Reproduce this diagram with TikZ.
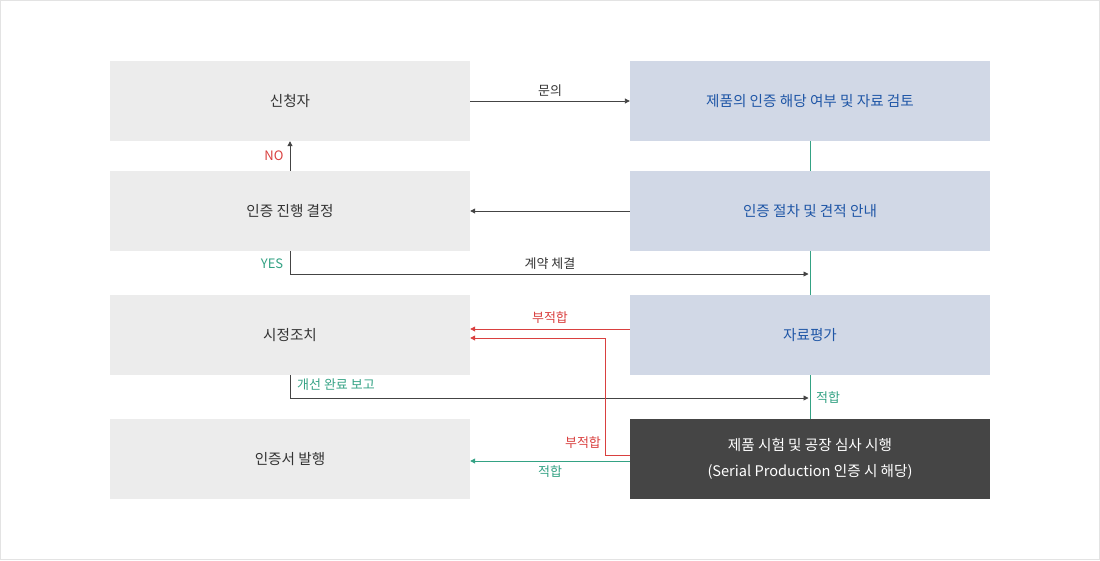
\documentclass[tikz,border=0pt]{standalone}
\usepackage{fontspec}
\setmainfont{Noto Sans CJK KR}
\usetikzlibrary{arrows.meta}
\definecolor{lbox}{HTML}{ECECEC}
\definecolor{rbox}{HTML}{D1D8E6}
\definecolor{dbox}{HTML}{454545}
\definecolor{txt}{HTML}{333333}
\definecolor{bluetxt}{HTML}{1F56A6}
\definecolor{redc}{HTML}{D9403F}
\definecolor{tealc}{HTML}{34A284}
\definecolor{linec}{HTML}{444444}
\definecolor{frame}{HTML}{E3E3E3}
\tikzset{
  boxbase/.style={rectangle, minimum width=360pt, minimum height=80pt, inner sep=0pt, font=\fontsize{14.6}{18}\selectfont, align=center},
  lbx/.style={boxbase, fill=lbox, text=txt},
  rbx/.style={boxbase, fill=rbox, text=bluetxt},
  dbx/.style={boxbase, fill=dbox, text=white, font=\fontsize{14.6}{26}\selectfont},
  conn/.style={line width=0.9pt, -{Triangle[length=5pt,width=5pt]}},
  darkarr/.style={conn, draw=linec},
  redarr/.style={conn, draw=redc},
  tealarr/.style={conn, draw=tealc},
  lbl/.style={inner sep=0pt, font=\fontsize{13}{15}\selectfont},
}
\begin{document}
\begin{tikzpicture}[x=1pt,y=-1pt]
\useasboundingbox (0,0) rectangle (1100,560);
\draw[frame, line width=1pt] (0.5,0.5) rectangle (1099.5,559.5);

\node[lbx] (l1) at (290,101) {신청자};
\node[lbx] (l2) at (290,211) {인증 진행 결정};
\node[lbx] (l3) at (290,335) {시정조치};
\node[lbx] (l4) at (290,459) {인증서 발행};
\node[rbx] (r1) at (810,101) {제품의 인증 해당 여부 및 자료 검토};
\node[rbx] (r2) at (810,211) {인증 절차 및 견적 안내};
\node[rbx] (r3) at (810,335) {자료평가};
\node[dbx] (r4) at (810,459) {제품 시험 및 공장 심사 시행\\(Serial Production 인증 시 해당)};

% teal vertical flow line
\draw[tealc, line width=0.9pt] (r1.south) -- (r2.north);
\draw[tealc, line width=0.9pt] (r2.south) -- (r3.north);
\draw[tealc, line width=0.9pt] (r3.south) -- (r4.north);

% connectors
\draw[darkarr] (l1.east) -- (r1.west);
\draw[darkarr] (r2.west) -- (l2.east);
\draw[darkarr] (l2.north) -- (l1.south);
\coordinate (yesend) at (808.5,274);
\draw[darkarr] (l2.south) |- (yesend);
\coordinate (fixend) at (808.5,398);
\draw[darkarr] (l3.south) |- (fixend);
\draw[redarr] ([yshift=6pt]r3.west) -- ([yshift=6pt]l3.east);
\coordinate (redturn) at (605,455);
\draw[redarr] ([yshift=4pt]r4.west) -- (redturn) |- ([yshift=-3pt]l3.east);
\draw[tealarr] ([yshift=-2pt]r4.west) -- ([yshift=-2pt]l4.east);

% labels
\node[lbl, text=txt] (q) at (550,91) {문의};
\node[lbl, text=redc] (no) at (274,156) {NO};
\node[lbl, text=tealc] (yes) at (272,264) {YES};
\node[lbl, text=txt] (contract) at (550,264) {계약 체결};
\node[lbl, text=redc] (fail1) at (550,318) {부적합};
\node[lbl, text=tealc, anchor=west] (fix) at (297,385) {개선 완료 보고};
\node[lbl, text=tealc, anchor=west] (pass1) at (816,398) {적합};
\node[lbl, text=redc] (fail2) at (583,443) {부적합};
\node[lbl, text=tealc] (pass2) at (550,472) {적합};
\end{tikzpicture}
\end{document}
